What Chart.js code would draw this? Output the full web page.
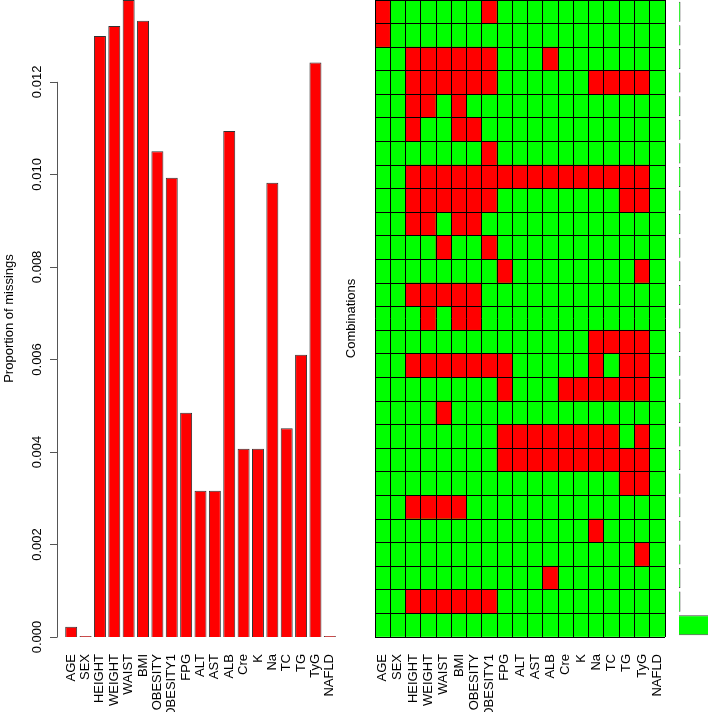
<!DOCTYPE html>
<html>
<head>
<meta charset="utf-8">
<script src="https://cdn.jsdelivr.net/npm/chart.js@4/dist/chart.umd.min.js"></script>
<style>
  html, body { margin: 0; padding: 0; background: #fff; overflow: hidden; }
  canvas { position: absolute; left: 0; top: 0; }
</style>
</head>
<body>
<canvas id="missChart" width="708" height="712"></canvas>
<canvas id="combChart" width="708" height="712"></canvas>
<canvas id="freqChart" width="800" height="712"></canvas>
<script>
const variables = ['AGE', 'SEX', 'HEIGHT', 'WEIGHT', 'WAIST', 'BMI', 'OBESITY', 'OBESITY1', 'FPG', 'ALT',
                   'AST', 'ALB', 'Cre', 'K', 'Na', 'TC', 'TG', 'TyG', 'NAFLD'];
const missingProp = [0.00022, 0, 0.01299, 0.01321, 0.01377, 0.01332, 0.01050, 0.00993, 0.00485, 0.00316,
                     0.00316, 0.01094, 0.00407, 0.00407, 0.00982, 0.00451, 0.00610, 0.01242, 0];
const yTicks = [0, 0.002, 0.004, 0.006, 0.008, 0.010, 0.012];

// missing variables of each combination, top row first
const combinations = [
  ['AGE', 'OBESITY1'],
  ['AGE'],
  ['HEIGHT', 'WEIGHT', 'WAIST', 'BMI', 'OBESITY', 'OBESITY1', 'ALB'],
  ['HEIGHT', 'WEIGHT', 'WAIST', 'BMI', 'OBESITY', 'OBESITY1', 'Na', 'TC', 'TG', 'TyG'],
  ['HEIGHT', 'WEIGHT', 'BMI'],
  ['HEIGHT', 'BMI', 'OBESITY'],
  ['OBESITY1'],
  ['HEIGHT', 'WEIGHT', 'WAIST', 'BMI', 'OBESITY', 'OBESITY1', 'FPG', 'ALT', 'AST', 'ALB', 'Cre', 'K', 'Na', 'TC', 'TG', 'TyG'],
  ['HEIGHT', 'WEIGHT', 'WAIST', 'BMI', 'OBESITY', 'OBESITY1', 'TG', 'TyG'],
  ['HEIGHT', 'WEIGHT', 'BMI', 'OBESITY'],
  ['WAIST', 'OBESITY1'],
  ['FPG', 'TyG'],
  ['HEIGHT', 'WEIGHT', 'WAIST', 'BMI', 'OBESITY'],
  ['WEIGHT', 'BMI', 'OBESITY'],
  ['Na', 'TC', 'TG', 'TyG'],
  ['HEIGHT', 'WEIGHT', 'WAIST', 'BMI', 'OBESITY', 'OBESITY1', 'FPG', 'Na', 'TG', 'TyG'],
  ['FPG', 'Cre', 'K', 'Na', 'TC', 'TG', 'TyG'],
  ['WAIST'],
  ['FPG', 'ALT', 'AST', 'ALB', 'Cre', 'K', 'Na', 'TC', 'TyG'],
  ['FPG', 'ALT', 'AST', 'ALB', 'Cre', 'K', 'Na', 'TC', 'TG', 'TyG'],
  ['TG', 'TyG'],
  ['HEIGHT', 'WEIGHT', 'WAIST', 'BMI'],
  ['Na'],
  ['TyG'],
  ['ALB'],
  ['HEIGHT', 'WEIGHT', 'WAIST', 'BMI', 'OBESITY', 'OBESITY1'],
  []
];
// proportion of each combination, same order
const combFreq = [0.0002, 0.0002, 0.0004, 0.0004, 0.0003, 0.0003, 0.0005, 0.0022, 0.0006, 0.0004,
                  0.0003, 0.0003, 0.0005, 0.0004, 0.0008, 0.0010, 0.0010, 0.0004, 0.0015, 0.0016,
                  0.0006, 0.0008, 0.0005, 0.0008, 0.0009, 0.0095, 0.9720];

const RED = '#ff0000';
const GREEN = '#00ff00';
const FONT = '"Liberation Sans", Arial, sans-serif';
Chart.defaults.font.family = FONT;
Chart.defaults.font.size = 13;
Chart.defaults.color = '#000';
Chart.defaults.animation = false;

const xLabelScale = {
  grid: { display: false, drawTicks: false },
  border: { display: false },
  ticks: { minRotation: 90, maxRotation: 90, padding: 17, autoSkip: false, color: '#000' },
  afterFit: s => { s.height = 75; }
};

// R-style left axis for the missing proportion chart
const rAxis = {
  id: 'rAxis',
  afterDraw(chart) {
    const ctx = chart.ctx, y = chart.scales.y, x0 = chart.chartArea.left - 7;
    ctx.save();
    ctx.strokeStyle = '#555';
    ctx.lineWidth = 1;
    ctx.beginPath();
    ctx.moveTo(x0 + 0.5, y.getPixelForValue(yTicks[0]));
    ctx.lineTo(x0 + 0.5, y.getPixelForValue(yTicks[yTicks.length - 1]));
    yTicks.forEach(v => {
      const py = Math.round(y.getPixelForValue(v)) + 0.5;
      ctx.moveTo(x0 + 0.5, py);
      ctx.lineTo(x0 - 7, py);
    });
    ctx.stroke();
    ctx.fillStyle = '#000';
    ctx.font = '13px ' + FONT;
    ctx.textAlign = 'center';
    ctx.textBaseline = 'middle';
    yTicks.forEach(v => {
      ctx.save();
      ctx.translate(x0 - 20, y.getPixelForValue(v));
      ctx.rotate(-Math.PI / 2);
      ctx.fillText(v.toFixed(3), 0, 0);
      ctx.restore();
    });
    ctx.translate(9, (chart.chartArea.top + chart.chartArea.bottom) / 2);
    ctx.rotate(-Math.PI / 2);
    ctx.fillText('Proportion of missings', 0, 0);
    ctx.restore();
  }
};

new Chart(document.getElementById('missChart'), {
  type: 'bar',
  data: {
    labels: variables,
    datasets: [{
      data: missingProp,
      backgroundColor: RED,
      borderColor: '#333',
      borderWidth: 1,
      minBarLength: 1,
      categoryPercentage: 1,
      barPercentage: 1 / 1.2
    }]
  },
  options: {
    responsive: false,
    layout: { padding: { left: 64, right: 371, top: 0, bottom: 0 } },
    plugins: { legend: { display: false }, tooltip: { enabled: false } },
    scales: {
      x: xLabelScale,
      y: { display: false, min: 0, max: Math.max(...missingProp) }
    }
  },
  plugins: [rAxis]
});

// combination grid: one stacked dataset per row, bottom row first
const rowsBottomUp = combinations.slice().reverse();
new Chart(document.getElementById('combChart'), {
  type: 'bar',
  data: {
    labels: variables,
    datasets: rowsBottomUp.map(miss => ({
      data: variables.map(() => 1),
      backgroundColor: variables.map(v => miss.includes(v) ? RED : GREEN),
      borderWidth: 0,
      categoryPercentage: 1,
      barPercentage: 1
    }))
  },
  options: {
    responsive: false,
    layout: { padding: { left: 335, right: 43, top: 0, bottom: 0 } },
    plugins: { legend: { display: false }, tooltip: { enabled: false } },
    scales: {
      x: Object.assign({}, xLabelScale, {
        stacked: true,
        grid: { display: true, drawTicks: false, color: '#000', lineWidth: 1, z: 1, offset: true }
      }),
      y: {
        stacked: true, min: 0, max: combinations.length,
        ticks: { display: false, stepSize: 1 },
        grid: { color: '#000', lineWidth: 1, drawTicks: false, z: 1 },
        border: { display: false },
        title: { display: true, text: 'Combinations', padding: { top: 9, bottom: 0 } },
        afterFit: s => { s.width = 40; }
      }
    }
  }
});

// proportions of the combinations
new Chart(document.getElementById('freqChart'), {
  type: 'bar',
  data: {
    labels: combinations.map((c, i) => 'c' + i),
    datasets: [{
      data: combFreq,
      backgroundColor: GREEN,
      borderColor: '#444',
      borderWidth: 1,
      minBarLength: 1.5,
      categoryPercentage: 0.85,
      barPercentage: 1
    }]
  },
  options: {
    indexAxis: 'y',
    responsive: false,
    layout: { padding: { left: 679, right: 20, top: 0, bottom: 75 } },
    plugins: { legend: { display: false }, tooltip: { enabled: false } },
    scales: {
      x: { display: false, min: 0, max: 1 },
      y: { display: false }
    }
  }
});
</script>
</body>
</html>
